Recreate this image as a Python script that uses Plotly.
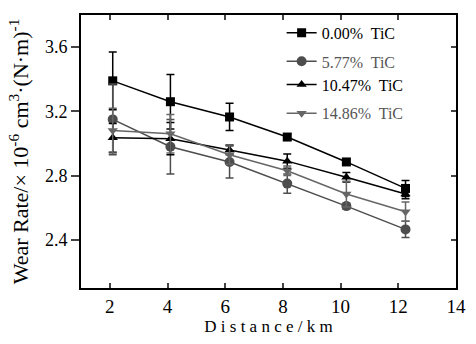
import plotly.graph_objects as go

distance = [2.1, 4.1, 6.15, 8.15, 10.2, 12.25]
names = ["0.00%\u00a0 TiC", "5.77%\u00a0 TiC", "10.47%\u00a0 TiC", "14.86%\u00a0 TiC"]
wear_0 = [3.39, 3.26, 3.165, 3.04, 2.885, 2.72]
err_0 = [0.18, 0.17, 0.085, 0.02, 0.02, 0.05]
wear_577 = [3.15, 2.98, 2.885, 2.75, 2.61, 2.465]
err_577 = [0.22, 0.17, 0.10, 0.06, 0.02, 0.05]
wear_1047 = [3.035, 3.03, 2.96, 2.89, 2.79, 2.685]
err_1047 = [0.09, 0.10, 0.03, 0.045, 0.03, 0.03]
wear_1486 = [3.08, 3.06, 2.93, 2.83, 2.685, 2.575]
err_1486 = [0.14, 0.12, 0.06, 0.03, 0.08, 0.06]
x_ticks = [2, 4, 6, 8, 10, 12, 14]
y_ticks = [2.4, 2.8, 3.2, 3.6]

series = [
    (wear_0, err_0, "#000000", "square", 9),
    (wear_577, err_577, "#4d4d4d", "circle", 10),
    (wear_1047, err_1047, "#000000", "triangle-up", 9),
    (wear_1486, err_1486, "#666666", "triangle-down", 9),
]
legend_y = [0.935, 0.83, 0.745, 0.64]

FONT = "Liberation Serif"
fig = go.Figure()
for i, (ys, es, col, sym, sz) in enumerate(series):
    lg = "legend" if i == 0 else f"legend{i+1}"
    fig.add_trace(go.Scatter(
        x=distance, y=ys, name=names[i], mode="lines+markers",
        line=dict(color=col, width=1.5),
        marker=dict(symbol=sym, size=sz, color=col),
        error_y=dict(type="data", array=es, visible=True, color=col, thickness=1.5, width=4),
        legend=lg,
    ))

leg_common = dict(x=0.535, xanchor="left", yanchor="middle", bgcolor="rgba(0,0,0,0)",
                  borderwidth=0, itemwidth=30)
layout_legends = {}
for i in range(4):
    key = "legend" if i == 0 else f"legend{i+1}"
    col = "#000000" if i in (0, 2) else "#555555"
    layout_legends[key] = dict(leg_common, y=legend_y[i],
                               font=dict(family=FONT, size=16, color=col, weight="normal"))

# right axis with inward ticks
fig.add_trace(go.Scatter(x=[None], y=[None], yaxis="y2", showlegend=False, hoverinfo="skip"))

fig.update_layout(
    width=476, height=344,
    margin=dict(l=81, r=10, t=15, b=56),
    paper_bgcolor="white", plot_bgcolor="white",
    font=dict(family=FONT, size=16, color="black"),
    xaxis=dict(range=[1, 14], tickvals=x_ticks, ticks="inside", ticklen=5, tickwidth=1.5,
               mirror="ticks", showline=True, linewidth=2, linecolor="black",
               showgrid=False, zeroline=False,
               tickfont=dict(family=FONT, size=19),
               title=dict(text="D i s t a n c e / k m", font=dict(family=FONT, size=17), standoff=4)),
    yaxis=dict(range=[2.1, 3.8], tickvals=y_ticks, tickformat=".1f", ticks="outside", ticklen=8,
               tickwidth=1.5, mirror=True, showline=True, linewidth=2, linecolor="black",
               showgrid=False, zeroline=False, tickfont=dict(family=FONT, size=18),
               title=dict(text="Wear Rate/× 10<sup>-6</sup> cm<sup>3</sup>·(N·m)<sup>-1</sup>",
                          font=dict(family=FONT, size=22), standoff=10)),
    yaxis2=dict(range=[2.1, 3.8], tickvals=y_ticks, overlaying="y", side="right",
                ticks="inside", ticklen=5, tickwidth=1.5, showticklabels=False,
                showgrid=False, zeroline=False, showline=False),
    **layout_legends,
)

fig.write_html("out.html", config={"displayModeBar": False})
with open("out.html", "r", encoding="utf-8") as f:
    html = f.read()
html = html.replace("<body>", '<body style="margin:0;padding:0;overflow:hidden">', 1)
html = html.replace("<head>", "<head><style>html,body{margin:0;padding:0;}</style>", 1)
with open("out.html", "w", encoding="utf-8") as f:
    f.write(html)
